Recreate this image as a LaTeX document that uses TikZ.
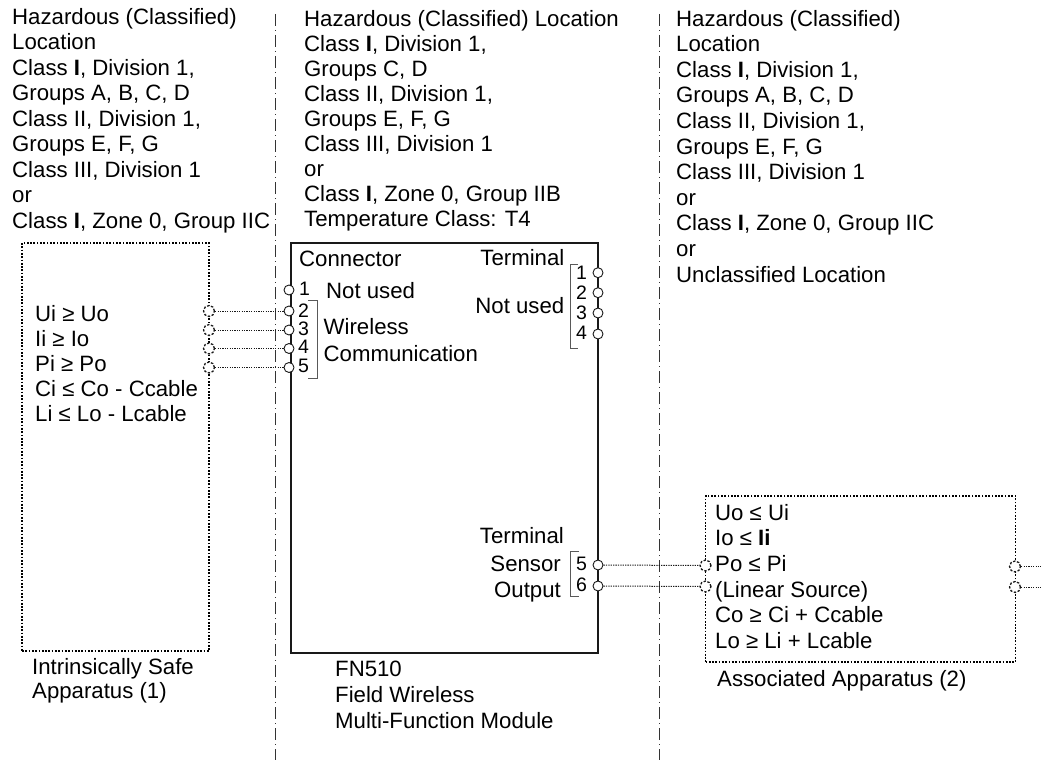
\documentclass[tikz,border=0pt]{standalone}
\usepackage{fontspec}
\setmainfont{Liberation Sans}
\begin{document}
\begin{tikzpicture}[x=1pt,y=-1pt,
  txt/.style={anchor=base west,inner sep=0pt,font=\fontsize{22.2}{25}\selectfont,align=left,text=black},
  txtr/.style={txt,anchor=base east,align=right},
  num/.style={txt,anchor=base west,font=\fontsize{19.5}{20}\selectfont},
  pin/.style={circle,draw=black!90,fill=white,line width=0.9pt,minimum size=10pt,inner sep=0pt},
  dpin/.style={pin,dash pattern=on 2.4pt off 1.6pt,line width=1.3pt,minimum size=11pt},
  mainbox/.style={draw=black!90,line width=1.1pt,outer sep=0pt},
  dotbox/.style={draw=black,line width=1.6pt,dash pattern=on 1.7pt off 1.6pt,outer sep=0pt},
  wire/.style={draw=black!90,line width=1pt,dash pattern=on 1.3pt off 1.1pt},
  brack/.style={draw=black!65,line width=1pt},
  zone/.style={draw=black!80,line width=0.9pt,dash pattern=on 12pt off 4pt on 1pt off 4pt}]
\useasboundingbox (0,0) rectangle (1041,760);
\newcommand{\bI}{\textbf{I}}
% zone separators
\coordinate (z1t) at (275,14); \coordinate (z1b) at (275,760);
\coordinate (z2t) at (659.5,14); \coordinate (z2b) at (659.5,760);
\draw[zone] (z1t) -- (z1b);
\draw[zone] (z2t) -- (z2b);
% boxes
\node[dotbox,minimum width=187pt,minimum height=408pt,inner sep=0pt,anchor=north west] (safe) at (22,243) {};
\node[mainbox,minimum width=307pt,minimum height=410pt,inner sep=0pt,anchor=north west] (module) at (291,243) {};
\node[dotbox,minimum width=310pt,minimum height=166pt,inner sep=0pt,anchor=north west] (assoc) at (705.5,496) {};
% column headings
\node[txt,font=\fontsize{22.2}{25.5}\selectfont] (h1) at (12,228) {Hazardous (Classified)\\Location\\Class \bI, Division 1,\\Groups A, B, C, D\\Class II, Division 1,\\Groups E, F, G\\Class III, Division 1\\or\\Class \bI, Zone 0, Group IIC};
\node[txt] (h2) at (304,226.5) {Hazardous (Classified) Location\\Class \bI, Division 1,\\Groups C, D\\Class II, Division 1,\\Groups E, F, G\\Class III, Division 1\\or\\Class \bI, Zone 0, Group IIB\\Temperature Class: T4};
\node[txt,font=\fontsize{22.2}{25.6}\selectfont] (h3) at (676,282) {Hazardous (Classified)\\Location\\Class \bI, Division 1,\\Groups A, B, C, D\\Class II, Division 1,\\Groups E, F, G\\Class III, Division 1\\or\\Class \bI, Zone 0, Group IIC\\or\\Unclassified Location};
% left apparatus text
\node[txt] (lt) at (35,421) {Ui ≥ Uo\\Ii ≥ Io\\Pi ≥ Po\\Ci ≤ Co - Ccable\\Li ≤ Lo - Lcable};
\node[txt,font=\fontsize{22.2}{23.8}\selectfont] (lc) at (32,698) {Intrinsically Safe\\Apparatus (1)};
% module text
\node[txt] (conn) at (299,266) {Connector};
\node[txt] (nu1) at (326,298) {Not used};
\node[txt,font=\fontsize{22.2}{26.5}\selectfont] (wc) at (323.5,361) {Wireless\\Communication};
\node[txtr] (term1) at (564.5,265.5) {Terminal};
\node[txtr] (nu2) at (564.5,313) {Not used};
\node[txtr] (term2) at (564,543) {Terminal};
\node[txtr] (sens) at (561,571) {Sensor};
\node[txtr] (outp) at (561,597.5) {Output};
\node[txt,font=\fontsize{22.2}{26}\selectfont] (fn) at (335,728) {FN510\\Field Wireless\\Multi-Function Module};
% associated text
\node[txt,font=\fontsize{22.2}{25.7}\selectfont] (rt) at (715,648.5) {Uo ≤ Ui\\Io ≤ \textbf{Ii}\\Po ≤ Pi\\(Linear Source)\\Co ≥ Ci + Ccable\\Lo ≥ Li + Lcable};
\node[txt] (ac) at (717,686) {Associated Apparatus (2)};
% pins: module connector
\node[pin] (c1) at (289,290) {};
\node[pin] (c2) at (289,311) {};
\node[pin] (c3) at (289,330) {};
\node[pin] (c4) at (289,348.5) {};
\node[pin] (c5) at (289,367.5) {};
\node[num] (n1) at (299,295.7) {1};
\node[num] (n2) at (298,317) {2};
\node[num] (n3) at (298,335.5) {3};
\node[num] (n4) at (298,353.5) {4};
\node[num] (n5) at (298,372.7) {5};
% pins: module terminals
\node[pin] (t1) at (598,272.7) {};
\node[pin] (t2) at (598,292.7) {};
\node[pin] (t3) at (598,313) {};
\node[pin] (t4) at (598,334) {};
\node[num] (m1) at (576,279) {1};
\node[num] (m2) at (576,299.3) {2};
\node[num] (m3) at (576,319.3) {3};
\node[num] (m4) at (576,339.3) {4};
\node[pin] (t5) at (598,565) {};
\node[pin] (t6) at (598,586) {};
\node[num] (m5) at (576,570) {5};
\node[num] (m6) at (576,591) {6};
% pins: safe apparatus
\node[dpin] (s2) at (209,311) {};
\node[dpin] (s3) at (209,330) {};
\node[dpin] (s4) at (209,348.5) {};
\node[dpin] (s5) at (209,367.5) {};
% pins: associated apparatus
\node[dpin] (a1) at (705.5,565.5) {};
\node[dpin] (a2) at (705.5,586.5) {};
\node[dpin] (b1) at (1015,566.5) {};
\node[dpin] (b2) at (1015,587) {};
\coordinate (e1) at (1041,566.5);
\coordinate (e2) at (1041,587);
% wires
\draw[wire] (s2) -- (c2);
\draw[wire] (s3) -- (c3);
\draw[wire] (s4) -- (c4);
\draw[wire] (s5) -- (c5);
\draw[wire] (t5) -- (a1);
\draw[wire] (t6) -- (a2);
\draw[wire] (b1) -- (e1);
\draw[wire] (b2) -- (e2);
% brackets
\draw[brack] (308,300.7) -- (317,300.7) -- (317,378.7) -- (308,378.7);
\draw[brack] (578,264) -- (570.7,264) -- (570.7,348) -- (578,348);
\draw[brack] (579,551) -- (570,551) -- (570,596) -- (579,596);
\end{tikzpicture}
\end{document}
